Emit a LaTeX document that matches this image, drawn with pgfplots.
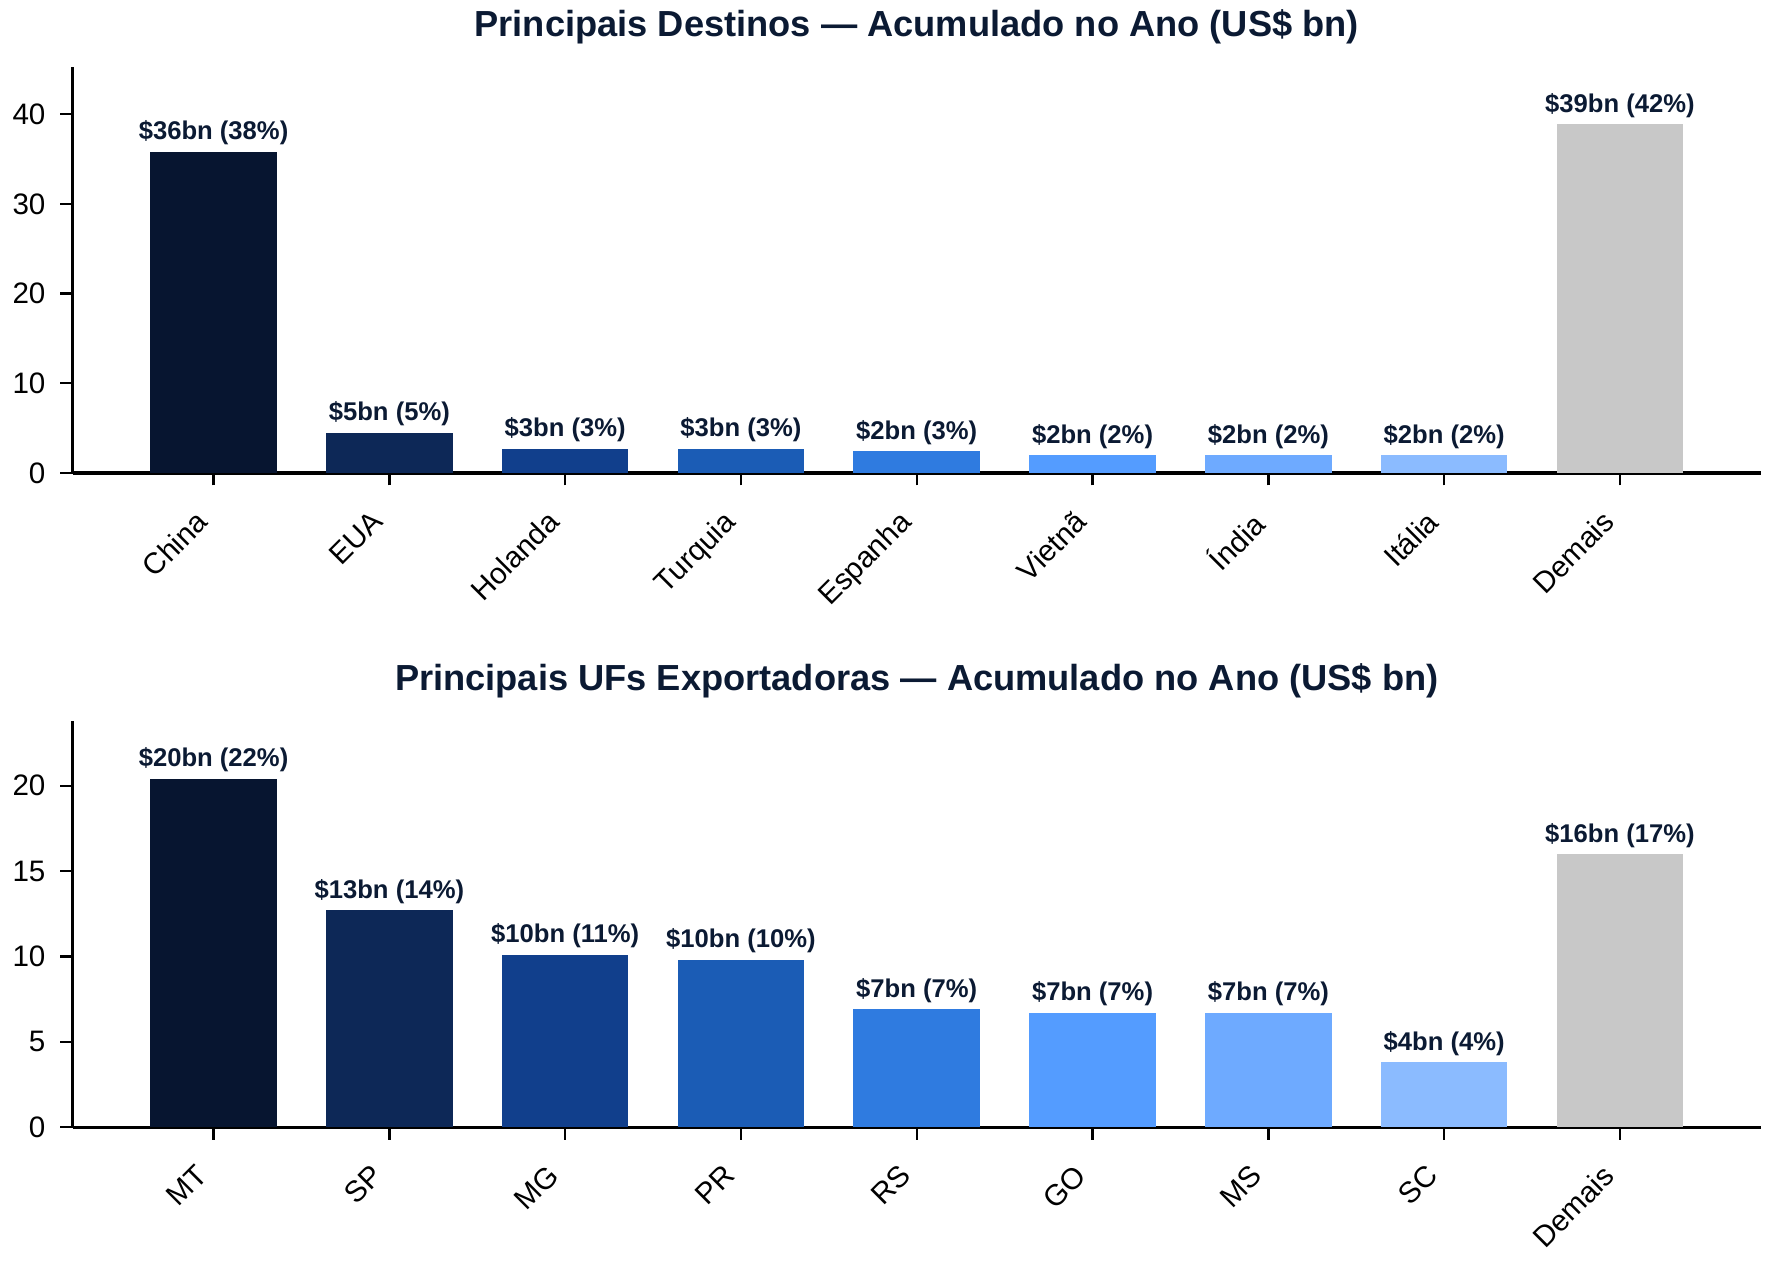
\documentclass[border=0pt]{standalone}
\usepackage{pgfplots}
\pgfplotsset{compat=1.18}
\usepackage{fontspec}
\setmainfont{Liberation Sans}
\definecolor{c1}{HTML}{071530}
\definecolor{c2}{HTML}{0D2857}
\definecolor{c3}{HTML}{113F8C}
\definecolor{c4}{HTML}{1B5CB5}
\definecolor{c5}{HTML}{2F7BE0}
\definecolor{c6}{HTML}{549CFF}
\definecolor{c7}{HTML}{6EAAFF}
\definecolor{c8}{HTML}{8BBBFF}
\definecolor{c9}{HTML}{C8C8C8}
\definecolor{txt}{HTML}{0B1A33}
\pgfplotsset{
  mybase/.style={
    scale only axis, width=810pt, height=195pt,
    xmin=-0.8, xmax=8.8, ymin=0,
    axis x line*=bottom, axis y line*=left,
    axis line style={-, line width=1.5pt, black},
    tick style={line width=1.1pt, black},
    major tick length=6pt, tick align=outside,
    xtick={0,...,8},
    /pgf/number format/assume math mode=true,
    tick label style={font=\fontsize{14.2}{16}\selectfont, black},
    x tick label style={rotate=45, anchor=north east, inner sep=2pt, xshift=-12.3pt, yshift=0.7pt},
    y tick label style={inner sep=0pt, xshift=-7pt},
    title style={font=\bfseries\fontsize{17.4}{20}\selectfont, text=txt, at={(0.5,1)}, anchor=base, yshift=8.4pt, inner sep=0pt},
    clip=false,
  },
  bar/.style={ybar, bar width=0.72, bar shift=0pt, draw=none, fill=#1,
    nodes near coords, point meta=explicit symbolic,
    nodes near coords style={font=\bfseries\fontsize{12.3}{14}\selectfont, text=txt, anchor=south, inner sep=3pt}},
}
\begin{document}
\begin{tikzpicture}
\path[use as bounding box] (-35pt,-65pt) rectangle (815pt,541pt);
% top
\begin{axis}[mybase, at={(0,314pt)}, ymax=45.3, ytick={0,10,20,30,40},
  xticklabels={China,EUA,Holanda,Turquia,Espanha,Vietnã,Índia,Itália,Demais},
  title={Principais Destinos — Acumulado no Ano (US\$ bn)}]
\addplot[bar=c1] coordinates {(0,35.8) [\$36bn (38\%)]};
\addplot[bar=c2] coordinates {(1,4.5) [\$5bn (5\%)]};
\addplot[bar=c3] coordinates {(2,2.7) [\$3bn (3\%)]};
\addplot[bar=c4] coordinates {(3,2.7) [\$3bn (3\%)]};
\addplot[bar=c5] coordinates {(4,2.4) [\$2bn (3\%)]};
\addplot[bar=c6] coordinates {(5,2.0) [\$2bn (2\%)]};
\addplot[bar=c7] coordinates {(6,2.0) [\$2bn (2\%)]};
\addplot[bar=c8] coordinates {(7,2.0) [\$2bn (2\%)]};
\addplot[bar=c9] coordinates {(8,38.9) [\$39bn (42\%)]};
\end{axis}
% bottom
\begin{axis}[mybase, at={(0,0)}, ymax=23.8, ytick={0,5,10,15,20},
  xticklabels={MT,SP,MG,PR,RS,GO,MS,SC,Demais},
  title={Principais UFs Exportadoras — Acumulado no Ano (US\$ bn)}]
\addplot[bar=c1] coordinates {(0,20.4) [\$20bn (22\%)]};
\addplot[bar=c2] coordinates {(1,12.7) [\$13bn (14\%)]};
\addplot[bar=c3] coordinates {(2,10.1) [\$10bn (11\%)]};
\addplot[bar=c4] coordinates {(3,9.8) [\$10bn (10\%)]};
\addplot[bar=c5] coordinates {(4,6.9) [\$7bn (7\%)]};
\addplot[bar=c6] coordinates {(5,6.7) [\$7bn (7\%)]};
\addplot[bar=c7] coordinates {(6,6.7) [\$7bn (7\%)]};
\addplot[bar=c8] coordinates {(7,3.8) [\$4bn (4\%)]};
\addplot[bar=c9] coordinates {(8,16.0) [\$16bn (17\%)]};
\end{axis}
\end{tikzpicture}
\end{document}
